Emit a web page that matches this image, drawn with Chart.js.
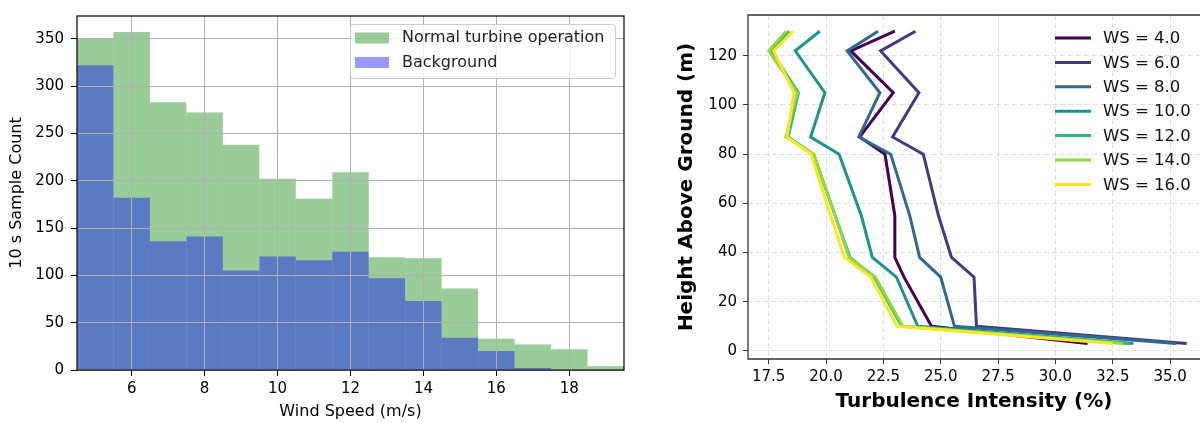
<!DOCTYPE html>
<html>
<head>
<meta charset="utf-8">
<script src="https://cdn.jsdelivr.net/npm/chart.js@4.4.0/dist/chart.umd.min.js"></script>
<style>
    html, body { margin: 0; padding: 0; background: #fff; overflow: hidden; }
    #wrap { position: relative; width: 1200px; height: 423px; }
    .box { position: absolute; top: 0; height: 423px; }
    #histBox { left: 0; width: 640px; }
    #tiBox { left: 640px; width: 560px; }
</style>
</head>
<body>
<div id="wrap">
    <div class="box" id="histBox"><canvas id="histChart"></canvas></div>
    <div class="box" id="tiBox"><canvas id="tiChart"></canvas></div>
</div>
<script>
// Histograma: centros de bin de 1 m/s
const windBins = [5, 6, 7, 8, 9, 10, 11, 12, 13, 14, 15, 16, 17, 18, 19];
const normalCounts = [350, 357, 283, 272, 238, 202, 181, 209, 119, 118, 86, 33, 27, 22, 4];
const backgroundCounts = [322, 182, 136, 141, 105, 120, 116, 125, 97, 73, 34, 20, 2, 0, 0];
const windTicks = [6, 8, 10, 12, 14, 16, 18];
const countTicks = [0, 50, 100, 150, 200, 250, 300, 350];

// Perfiles de intensidad de turbulencia
const heights = [3, 10, 30, 38, 55, 80, 87, 105, 122, 130];
const wsLabels = ['WS = 4.0', 'WS = 6.0', 'WS = 8.0', 'WS = 10.0', 'WS = 12.0', 'WS = 14.0', 'WS = 16.0'];
const tiWS4 = [31.4, 24.6, 23.4, 23.0, 23.0, 22.57, 21.47, 22.93, 21.08, 23.0];
const tiWS6 = [35.72, 26.56, 26.45, 25.47, 24.9, 24.24, 22.9, 24.05, 22.38, 23.9];
const tiWS8 = [35.28, 25.6, 25.0, 24.08, 23.65, 22.82, 21.43, 22.35, 20.92, 22.27];
const tiWS10 = [33.4, 24.0, 23.07, 22.02, 21.54, 20.57, 19.33, 19.95, 18.66, 19.73];
const tiWS12 = [33.2, 23.3, 22.1, 21.05, 20.4, 19.45, 18.35, 18.8, 17.6, 18.4];
const tiWS14 = [32.95, 23.35, 22.15, 21.0, 20.4, 19.47, 18.25, 18.75, 17.5, 18.27];
const tiWS16 = [32.5, 23.1, 21.95, 20.8, 20.2, 19.35, 18.3, 18.6, 17.72, 18.56];
const wsColors = ['#440154', '#443983', '#31688e', '#21918c', '#35b779', '#90d743', '#fde725'];
const tiTicks = [17.5, 20, 22.5, 25, 27.5, 30, 32.5, 35];
const heightTicks = [0, 20, 40, 60, 80, 100, 120];

Chart.defaults.font.family = '"DejaVu Sans", sans-serif';
Chart.defaults.color = '#000';
Chart.defaults.animation = false;

function roundRectPath(ctx, x, y, w, h, r) {
    ctx.beginPath();
    ctx.moveTo(x + r, y);
    ctx.arcTo(x + w, y, x + w, y + h, r);
    ctx.arcTo(x + w, y + h, x, y + h, r);
    ctx.arcTo(x, y + h, x, y, r);
    ctx.arcTo(x, y, x + w, y, r);
    ctx.closePath();
}

// Marco negro alrededor del area del histograma
const histFrame = {
    id: 'histFrame',
    afterDraw(chart) {
        const { ctx, chartArea: a } = chart;
        ctx.save();
        ctx.strokeStyle = '#000';
        ctx.lineWidth = 1.2;
        ctx.strokeRect(a.left, a.top, a.right - a.left, a.bottom - a.top);

        // leyenda con marco
        const w = 265, h = 54;
        const x = a.right - 9 - w, y = a.top + 8;
        roundRectPath(ctx, x + 0.5, y + 0.5, w, h, 3);
        ctx.fillStyle = 'rgba(255,255,255,0.8)';
        ctx.fill();
        ctx.strokeStyle = '#cccccc';
        ctx.lineWidth = 1;
        ctx.stroke();
        ctx.font = '16px "DejaVu Sans"';
        ctx.textBaseline = 'middle';
        chart.data.datasets.forEach((ds, i) => {
            const cy = y + 14 + i * 24.5;
            ctx.fillStyle = ds.backgroundColor;
            ctx.fillRect(x + 5, cy - 5.5, 34, 11);
            ctx.fillStyle = '#222';
            ctx.fillText(ds.label, x + 52, cy);
        });
        ctx.restore();
    }
};

// Ejes del perfil: izquierda, abajo y arriba + leyenda
const tiFrame = {
    id: 'tiFrame',
    afterDraw(chart) {
        const { ctx, chartArea: a } = chart;
        ctx.save();
        ctx.strokeStyle = '#333';
        ctx.lineWidth = 1.3;
        ctx.beginPath();
        ctx.moveTo(a.right + 2, a.top);
        ctx.lineTo(a.left, a.top);
        ctx.lineTo(a.left, a.bottom);
        ctx.lineTo(a.right + 2, a.bottom);
        ctx.stroke();

        ctx.font = '16.5px "DejaVu Sans"';
        ctx.textBaseline = 'middle';
        ctx.lineWidth = 3;
        chart.data.datasets.forEach((ds, i) => {
            const cy = a.top + 23 + i * 24.4;
            ctx.strokeStyle = ds.borderColor;
            ctx.beginPath();
            ctx.moveTo(a.right - 145, cy);
            ctx.lineTo(a.right - 109, cy);
            ctx.stroke();
            ctx.fillStyle = '#111';
            ctx.fillText(ds.label, a.right - 97, cy + 1);
        });
        ctx.restore();
    }
};

function initHistogram() {
    const ctx = document.getElementById('histChart');
    new Chart(ctx, {
        type: 'bar',
        data: {
            datasets: [{
                label: 'Normal turbine operation',
                data: windBins.map((b, i) => ({ x: b, y: normalCounts[i] })),
                backgroundColor: 'rgba(0,128,0,0.4)',
                order: 2
            }, {
                label: 'Background',
                data: windBins.map((b, i) => ({ x: b, y: backgroundCounts[i] })),
                backgroundColor: 'rgba(0,0,255,0.4)',
                order: 1
            }]
        },
        options: {
            responsive: true,
            maintainAspectRatio: false,
            layout: { padding: { top: 7, right: 16, left: 0, bottom: 0 } },
            datasets: { bar: { barPercentage: 1, categoryPercentage: 1, grouped: false, borderWidth: 0, inflateAmount: 0 } },
            plugins: { legend: { display: false }, tooltip: { enabled: false } },
            scales: {
                x: {
                    type: 'linear',
                    min: 4.5,
                    max: 19.5,
                    offset: false,
                    afterBuildTicks: s => { s.ticks = windTicks.map(v => ({ value: v })); },
                    afterFit: s => { s.height = 53; },
                    // rejilla por encima de las barras, como en matplotlib
                    grid: { color: '#b0b0b0', lineWidth: 1, tickLength: 6, tickColor: '#000', offset: false, z: 1 },
                    border: { display: false },
                    ticks: { font: { size: 15 }, color: '#000', padding: 4, maxRotation: 0, autoSkip: false },
                    title: { display: true, text: 'Wind Speed (m/s)', font: { size: 16 }, color: '#000', padding: { top: 0, bottom: 2 } }
                },
                y: {
                    min: 0,
                    max: 374,
                    afterBuildTicks: s => { s.ticks = countTicks.map(v => ({ value: v })); },
                    afterFit: s => { s.width = 77; },
                    grid: { color: '#b0b0b0', lineWidth: 1, tickLength: 6, tickColor: '#000', z: 1 },
                    border: { display: false },
                    ticks: { font: { size: 15 }, color: '#000', padding: 7, autoSkip: false },
                    title: { display: true, text: '10 s Sample Count', font: { size: 16 }, color: '#000', padding: { top: 7, bottom: 0 } }
                }
            }
        },
        plugins: [histFrame]
    });
}

function initProfiles() {
    const ctx = document.getElementById('tiChart');
    const series = [tiWS4, tiWS6, tiWS8, tiWS10, tiWS12, tiWS14, tiWS16];
    new Chart(ctx, {
        type: 'scatter',
        data: {
            datasets: series.map((ti, i) => ({
                label: wsLabels[i],
                data: ti.map((v, k) => ({ x: v, y: heights[k] })),
                borderColor: wsColors[i],
                backgroundColor: wsColors[i],
                showLine: true,
                borderWidth: 3,
                pointRadius: 0,
                tension: 0,
                order: series.length - i
            }))
        },
        options: {
            responsive: true,
            maintainAspectRatio: false,
            layout: { padding: { top: 8, right: 0, left: 0, bottom: 0 } },
            plugins: { legend: { display: false }, tooltip: { enabled: false } },
            scales: {
                x: {
                    type: 'linear',
                    min: 16.6,
                    max: 36.3,
                    afterBuildTicks: s => { s.ticks = tiTicks.map(v => ({ value: v })); },
                    afterFit: s => { s.height = 64; },
                    grid: { color: '#dddddd', lineWidth: 1, tickLength: 5, tickColor: '#333' },
                    border: { display: false, dash: [5, 3] },
                    ticks: { font: { size: 15 }, color: '#000', padding: 4, maxRotation: 0, autoSkip: false,
                        callback: v => v.toFixed(1) },
                    title: { display: true, text: 'Turbulence Intensity (%)', font: { size: 20, weight: 'bold' }, color: '#000', padding: { top: 0, bottom: 9 } }
                },
                y: {
                    min: -3.3,
                    max: 136.6,
                    afterBuildTicks: s => { s.ticks = heightTicks.map(v => ({ value: v })); },
                    afterFit: s => { s.width = 108; },
                    grid: { color: '#dddddd', lineWidth: 1, tickLength: 5, tickColor: '#333' },
                    border: { display: false, dash: [5, 3] },
                    ticks: { font: { size: 15 }, color: '#000', padding: 6, autoSkip: false },
                    title: { display: true, text: 'Height Above Ground (m)', font: { size: 20, weight: 'bold' }, color: '#000', padding: { top: 35, bottom: 0 } }
                }
            }
        },
        plugins: [tiFrame]
    });
}

document.addEventListener('DOMContentLoaded', function() {
    initHistogram();
    initProfiles();
});
</script>
</body>
</html>
